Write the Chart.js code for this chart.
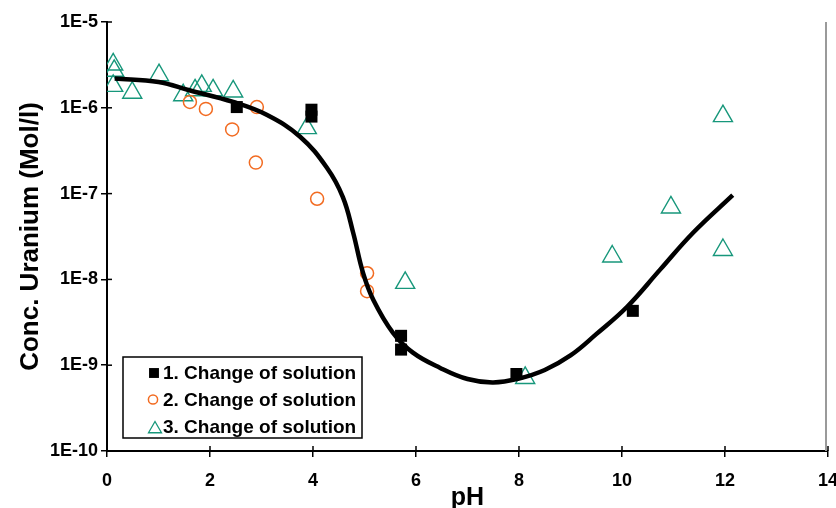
<!DOCTYPE html>
<html><head><meta charset="utf-8">
<script src="https://cdn.jsdelivr.net/npm/chart.js@4/dist/chart.umd.min.js"></script>
<style>html,body{margin:0;padding:0;background:#fff}#wrap{width:836px;height:508px;position:relative}</style>
</head><body><div id="wrap"><canvas id="c" width="836" height="508"></canvas></div>
<script>
// ---- data ----
const curveX = [0.15, 1.0, 1.6, 2.45, 3.1, 3.75, 4.27, 4.58, 4.78, 4.97, 5.17, 5.55, 5.94, 6.47, 7.0, 7.5, 8.0, 8.5, 9.0, 9.5, 10.1, 10.74, 11.38, 12.15];
const curveY = [2.2e-6, 2.0e-6, 1.6e-6, 1.17e-6, 8.3e-7, 4.6e-7, 2.0e-7, 9.1e-8, 3.5e-8, 1.2e-8, 5.8e-9, 2.4e-9, 1.4e-9, 9.3e-10, 6.9e-10, 6.3e-10, 7.0e-10, 8.8e-10, 1.3e-9, 2.3e-9, 4.8e-9, 1.3e-8, 3.5e-8, 9.6e-8];

const s1X = [2.52, 3.97, 3.97, 5.71, 5.71, 7.95, 10.21];
const s1Y = [1.02e-6, 9.5e-7, 7.9e-7, 2.2e-9, 1.52e-9, 7.9e-10, 4.3e-9];

const s2X = [1.61, 1.92, 2.43, 2.91, 2.89, 4.08, 5.05, 5.05];
const s2Y = [1.17e-6, 9.7e-7, 5.6e-7, 1.02e-6, 2.3e-7, 8.7e-8, 1.18e-8, 7.3e-9];

const s3X = [0.12, 0.14, 0.12, 0.49, 1.01, 1.48, 1.71, 1.84, 2.06, 2.45, 3.88, 5.79, 8.12, 9.81, 10.95, 11.96, 11.96];
const s3Y = [3.2e-6, 2.7e-6, 1.8e-6, 1.5e-6, 2.4e-6, 1.4e-6, 1.6e-6, 1.8e-6, 1.6e-6, 1.55e-6, 5.8e-7, 9.1e-9, 7.1e-10, 1.85e-8, 6.9e-8, 8.0e-7, 2.2e-8];

const seriesNames = ['1. Change of solution', '2. Change of solution', '3. Change of solution'];
const yTickValues = [1e-10, 1e-9, 1e-8, 1e-7, 1e-6, 1e-5];
const yTickLabels = ['1E-10', '1E-9', '1E-8', '1E-7', '1E-6', '1E-5'];
const xTickValues = [0, 2, 4, 6, 8, 10, 12, 14];
const xTitle = 'pH';
const yTitle = 'Conc. Uranium (Mol/l)';

const pts = (xs, ys) => xs.map((x, i) => ({x: x, y: ys[i]}));

const FONT = '"Liberation Sans", Arial, sans-serif';
const COL1 = '#000000', COL2 = '#F26B21', COL3 = '#17977B';

const decor = {
  id: 'decor',
  afterDraw(chart) {
    const {ctx, chartArea: a, scales: {x, y}} = chart;
    ctx.save();
    // right border
    ctx.strokeStyle = '#9a9a9a'; ctx.lineWidth = 2;
    ctx.beginPath(); ctx.moveTo(a.right - 2, a.top); ctx.lineTo(a.right - 2, a.bottom); ctx.stroke();
    // inner tick marks
    ctx.strokeStyle = '#000'; ctx.lineWidth = 1.5;
    yTickValues.forEach(v => { const py = y.getPixelForValue(v); ctx.beginPath(); ctx.moveTo(a.left, py); ctx.lineTo(a.left + 5, py); ctx.stroke(); });
    xTickValues.forEach(v => { const px = x.getPixelForValue(v); ctx.beginPath(); ctx.moveTo(px, a.bottom); ctx.lineTo(px, a.bottom - 5); ctx.stroke(); });
    // legend
    const bx = 123, by = 357, bw = 239, bh = 81;
    ctx.fillStyle = '#fff'; ctx.fillRect(bx, by, bw, bh);
    ctx.strokeStyle = '#000'; ctx.lineWidth = 1.5; ctx.strokeRect(bx, by, bw, bh);
    const rows = [373, 399.5, 427];
    const styles = [
      {pointStyle: 'rect', radius: 7, fill: COL1, stroke: COL1, bw: 0, cx: 154},
      {pointStyle: 'circle', radius: 4.6, fill: 'rgba(0,0,0,0)', stroke: COL2, bw: 1.5, cx: 153},
      {pointStyle: 'triangle', radius: 7.5, fill: 'rgba(0,0,0,0)', stroke: COL3, bw: 1.3, cx: 155}
    ];
    styles.forEach((s, i) => {
      ctx.fillStyle = s.fill; ctx.strokeStyle = s.stroke; ctx.lineWidth = s.bw;
      Chart.helpers.drawPoint(ctx, {pointStyle: s.pointStyle, radius: s.radius, rotation: 0, borderWidth: s.bw}, s.cx, rows[i] + (s.pointStyle === 'triangle' ? 2 : 0));
      ctx.fillStyle = '#000'; ctx.font = 'bold 19px ' + FONT; ctx.textAlign = 'left'; ctx.textBaseline = 'middle';
      ctx.fillText(seriesNames[i], 163, rows[i] + 1);
    });
    ctx.restore();
  }
};

new Chart(document.getElementById('c'), {
  type: 'scatter',
  data: {
    datasets: [
      {label: 'fit', data: pts(curveX, curveY), showLine: true, borderColor: '#000', borderWidth: 4.5, pointRadius: 0, tension: 0.4, fill: false},
      {label: seriesNames[0], data: pts(s1X, s1Y), pointStyle: 'rect', pointRadius: 8.5, backgroundColor: COL1, borderColor: COL1, borderWidth: 0},
      {label: seriesNames[1], data: pts(s2X, s2Y), pointStyle: 'circle', pointRadius: 6.5, backgroundColor: 'rgba(0,0,0,0)', borderColor: COL2, borderWidth: 1.5},
      {label: seriesNames[2], data: pts(s3X, s3Y), pointStyle: 'triangle', pointRadius: 11, backgroundColor: 'rgba(0,0,0,0)', borderColor: COL3, borderWidth: 1.4}
    ]
  },
  options: {
    responsive: false, animation: false, devicePixelRatio: 1,
    layout: {autoPadding: false, padding: {top: 22, right: 8, left: 0, bottom: 0}},
    plugins: {legend: {display: false}, tooltip: {enabled: false}},
    scales: {
      x: {
        type: 'linear', min: 0, max: 14,
        afterBuildTicks: s => { s.ticks = xTickValues.map(v => ({value: v})); },
        afterFit: s => { s.height = 57; s.paddingLeft = 0; s.paddingRight = 0; },
        ticks: {color: '#000', font: {family: FONT, size: 18, weight: 'bold'}, padding: 13, maxRotation: 0, autoSkip: false},
        grid: {drawOnChartArea: false, drawTicks: true, tickLength: 6, color: '#000', lineWidth: 1.5},
        border: {display: true, color: '#000', width: 2},
        title: {display: true, text: xTitle, color: '#000', font: {family: FONT, size: 25, weight: 'bold', lineHeight: 0.8}, padding: {top: 0, bottom: 0}}
      },
      y: {
        type: 'logarithmic', min: 1e-10, max: 1e-5,
        afterBuildTicks: s => { s.ticks = yTickValues.map(v => ({value: v})); },
        afterFit: s => { s.width = 107; s.paddingTop = 0; s.paddingBottom = 0; },
        ticks: {color: '#000', font: {family: FONT, size: 18, weight: 'bold'}, padding: 3, autoSkip: false,
          callback: (v) => { const i = yTickValues.findIndex(t => Math.abs(Math.log10(t) - Math.log10(v)) < 1e-6); return i >= 0 ? yTickLabels[i] : null; }},
        grid: {drawOnChartArea: false, drawTicks: true, tickLength: 6, color: '#000', lineWidth: 1.5},
        border: {display: true, color: '#000', width: 2},
        title: {display: true, text: yTitle, color: '#000', font: {family: FONT, size: 26, weight: 'bold', lineHeight: 1}, padding: {top: 18, bottom: 0}}
      }
    }
  },
  plugins: [decor]
});
</script></body></html>
